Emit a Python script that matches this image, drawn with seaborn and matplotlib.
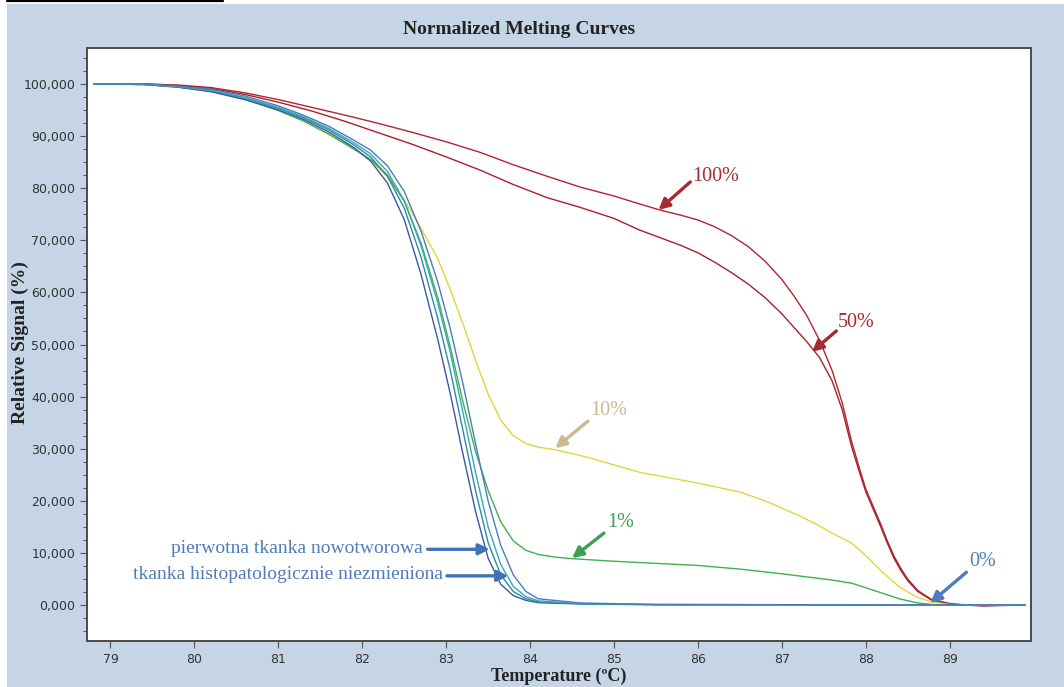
import matplotlib
matplotlib.use("Agg")
import matplotlib.pyplot as plt
from matplotlib.patches import Rectangle
from matplotlib.lines import Line2D
from matplotlib.ticker import FixedLocator, AutoMinorLocator, FuncFormatter
import pandas as pd
import seaborn as sns

# ---- Melting curves: temperature (degC) vs normalized signal (%) ----
red100_t = [78.8, 79.4, 79.8, 80.2, 80.6, 81.0, 81.4, 81.8, 82.2, 82.6, 83.0, 83.4, 83.8, 84.2,
            84.6, 85.0, 85.3, 85.55, 85.8, 86.0, 86.2, 86.4, 86.6, 86.8, 87.0, 87.15, 87.3,
            87.45, 87.6, 87.72, 87.83, 87.92, 88.0, 88.1, 88.18, 88.26, 88.34, 88.42, 88.5,
            88.62, 88.78, 89.0, 89.2, 89.4, 89.6, 89.9]
red100_y = [100, 100, 99.8, 99.3, 98.3, 97.0, 95.5, 94.0, 92.4, 90.7, 88.9, 86.9, 84.5, 82.3,
            80.2, 78.5, 77.0, 75.8, 74.8, 73.9, 72.6, 70.9, 68.8, 66.0, 62.5, 59.2, 55.5,
            50.8, 45.0, 38.8, 31.5, 26.5, 22.3, 18.5, 15.5, 12.2, 9.3, 7.0, 5.0,
            2.8, 1.1, 0.3, 0.0, -0.2, -0.1, 0.0]

red50_t = [78.8, 79.4, 79.8, 80.2, 80.6, 81.0, 81.4, 81.8, 82.2, 82.6, 83.0, 83.4, 83.8, 84.2,
           84.6, 85.0, 85.3, 85.6, 85.8, 86.0, 86.2, 86.4, 86.6, 86.8, 87.0, 87.15, 87.3,
           87.45, 87.6, 87.72, 87.83, 87.92, 88.0, 88.1, 88.18, 88.26, 88.34, 88.42, 88.5,
           88.62, 88.78, 89.0, 89.2, 89.9]
red50_y = [100, 100, 99.7, 99.1, 98.0, 96.5, 94.8, 92.8, 90.6, 88.4, 86.0, 83.5, 80.7, 78.2,
           76.3, 74.2, 72.0, 70.2, 69.0, 67.6, 65.8, 63.8, 61.6, 59.0, 55.9, 53.2, 50.5,
           47.5, 43.0, 37.5, 30.5, 25.8, 21.8, 18.0, 15.0, 11.8, 8.9, 6.6, 4.7,
           2.6, 1.0, 0.2, 0.0, 0.0]

yellow10_t = [78.8, 79.4, 79.8, 80.2, 80.6, 81.0, 81.3, 81.6, 81.9, 82.1, 82.3, 82.5, 82.7,
              82.9, 83.05, 83.2, 83.35, 83.5, 83.65, 83.8, 83.95, 84.1, 84.3, 84.7, 85.3,
              86.0, 86.5, 86.8, 87.0, 87.2, 87.4, 87.6, 87.83, 88.0, 88.2, 88.4, 88.6, 88.78,
              89.0, 89.9]
yellow10_y = [100, 99.9, 99.4, 98.6, 97.2, 95.0, 92.9, 90.3, 87.6, 85.4, 82.2, 77.8, 72.3,
              66.5, 60.5, 54.0, 47.0, 40.5, 35.5, 32.5, 31.0, 30.3, 29.8, 28.3, 25.5,
              23.4, 21.7, 20.0, 18.6, 17.2, 15.6, 13.8, 11.9, 9.5, 6.3, 3.5, 1.6, 0.6,
              0.1, 0.0]

green1_t = [78.8, 79.4, 79.8, 80.2, 80.6, 81.0, 81.3, 81.6, 81.9, 82.1, 82.3, 82.5, 82.7,
            82.9, 83.05, 83.2, 83.35, 83.5, 83.65, 83.8, 83.95, 84.1, 84.3, 84.5, 85.0, 85.5,
            86.0, 86.5, 87.0, 87.3, 87.6, 87.83, 88.1, 88.4, 88.62, 88.8, 89.0, 89.9]
green1_y = [100, 99.9, 99.4, 98.6, 97.1, 94.9, 92.9, 90.4, 87.5, 85.5, 82.5, 77.5, 69.5,
            59.0, 49.5, 39.0, 29.5, 22.0, 16.0, 12.3, 10.5, 9.7, 9.2, 8.9, 8.4, 8.0,
            7.6, 6.9, 6.0, 5.4, 4.8, 4.2, 2.8, 1.2, 0.4, 0.1, 0.0, 0.0]

# four tissue samples (primary tumour / unchanged tissue) share one temperature grid
tissue_t = [78.8, 79.4, 79.8, 80.2, 80.6, 81.0, 81.3, 81.6, 81.9, 82.1, 82.3, 82.5, 82.7,
            82.9, 83.05, 83.2, 83.35, 83.5, 83.65, 83.8, 83.95, 84.1, 84.6, 85.5, 89.9]
tissue_a_y = [100, 99.9, 99.4, 98.5, 97.0, 95.0, 93.2, 90.8, 87.8, 85.2, 81.0, 74.0, 63.5,
              51.0, 40.5, 29.0, 18.0, 9.0, 4.0, 1.8, 0.9, 0.45, 0.2, 0.05, 0.0]
tissue_b_y = [100, 99.9, 99.5, 98.7, 97.3, 95.3, 93.5, 91.2, 88.3, 86.0, 82.3, 76.2, 66.8,
              55.0, 45.0, 33.5, 22.0, 12.0, 5.8, 2.6, 1.2, 0.6, 0.25, 0.1, 0.0]
tissue_c_y = [100, 99.9, 99.5, 98.8, 97.4, 95.5, 93.7, 91.5, 88.7, 86.6, 83.2, 77.6, 69.0,
              58.0, 48.5, 37.0, 25.5, 15.0, 7.8, 3.6, 1.6, 0.8, 0.3, 0.1, 0.0]
tissue_d_y = [100, 100, 99.6, 99.0, 97.7, 95.8, 94.0, 91.9, 89.2, 87.3, 84.3, 79.4, 71.8,
              62.0, 53.0, 42.5, 31.0, 20.0, 11.5, 5.8, 2.6, 1.2, 0.4, 0.1, 0.0]

curve_names = ["100%", "50%", "10%", "1%", "tissue A", "tissue B", "tissue C", "tissue D"]
curve_colors = ["#b3242f", "#a8202c", "#e4d43a", "#3db24e", "#3a58aa", "#2a8d9e", "#36a9b6", "#4a7cc4"]

x_ticks = [79, 80, 81, 82, 83, 84, 85, 86, 87, 88, 89]
y_ticks = [0, 10, 20, 30, 40, 50, 60, 70, 80, 90, 100]

series = [(red100_t, red100_y), (red50_t, red50_y), (yellow10_t, yellow10_y),
          (green1_t, green1_y), (tissue_t, tissue_a_y), (tissue_t, tissue_b_y),
          (tissue_t, tissue_c_y), (tissue_t, tissue_d_y)]
frames = []
for name, (t, y) in zip(curve_names, series):
    frames.append(pd.DataFrame({"curve": name, "temperature": t, "signal": y}))
df = pd.concat(frames, ignore_index=True)

# ---- Figure ----
sns.set_theme(style="ticks")
plt.rcParams['font.family'] = ['DejaVu Sans']
SERIF = ['Liberation Serif', 'DejaVu Serif']
BG = "#c5d5e5"
W, H = 1064, 687

fig = plt.figure(figsize=(W / 100, H / 100), dpi=100)
fig.patch.set_facecolor("white")
fig.add_artist(Rectangle((7 / W, 0), 1 - 7 / W, 1 - 4 / H, transform=fig.transFigure,
                         facecolor=BG, edgecolor="none", zorder=-5))
fig.add_artist(Line2D([7 / W, 223 / W], [1 - 1 / H, 1 - 1 / H], transform=fig.transFigure,
                      color="black", lw=1.6, zorder=-4))

ax = fig.add_axes([87 / W, 1 - 641 / H, (1031 - 87) / W, (641 - 48) / H])
ax.set_facecolor("white")

sns.lineplot(data=df, x="temperature", y="signal", hue="curve", hue_order=curve_names,
             palette=dict(zip(curve_names, curve_colors)), estimator=None, sort=False,
             linewidth=1.0, legend=False, ax=ax)

ax.set_xlim(78.72, 89.97)
ax.set_ylim(-6.9, 106.9)
ax.xaxis.set_major_locator(FixedLocator(x_ticks))
ax.yaxis.set_major_locator(FixedLocator(y_ticks))
ax.yaxis.set_minor_locator(AutoMinorLocator(4))
ax.yaxis.set_major_formatter(FuncFormatter(lambda v, p: f"{v:.3f}".replace(".", ",")))
ax.xaxis.set_major_formatter(FuncFormatter(lambda v, p: f"{int(round(v))}"))
ax.tick_params(axis="both", which="major", direction="out", length=5, width=0.8,
               color="#555555", labelsize=9, labelcolor="#333333")
ax.tick_params(axis="y", which="minor", direction="out", length=3, width=0.7, color="#555555")
for s in ax.spines.values():
    s.set_color("#4a4a4a")
    s.set_linewidth(1.4)

ax.set_xlabel("")
ax.set_ylabel("")
fig.text(559 / W, 1 - 676 / H, "Temperature (\u00baC)", ha="center", va="center",
         fontsize=13, fontweight="bold", family=SERIF, color="#222222")
fig.text(20 / W, 1 - 343 / H, "Relative Signal (%)", ha="center", va="center", rotation=90,
         fontsize=14, fontweight="bold", family=SERIF, color="#222222")
fig.text(519 / W, 1 - 29 / H, "Normalized Melting Curves", ha="center", va="center",
         fontsize=14, fontweight="bold", family=SERIF, color="#222222")

# ---- Annotations ----
def arrow(tail, tip, color):
    ax.annotate("", xy=tip, xytext=tail,
                arrowprops=dict(arrowstyle="-|>", color=color, lw=2.4, mutation_scale=16,
                                shrinkA=0, shrinkB=0))

RED_TXT = "#a52a31"
BLUE_TXT = "#4f7db8"
arrow((85.91, 81.2), (85.53, 75.8), RED_TXT)
ax.text(85.93, 82.3, "100%", color=RED_TXT, fontsize=14.5, family=SERIF, ha="left", va="center")
arrow((87.65, 52.6), (87.36, 48.6), RED_TXT)
ax.text(87.67, 54.3, "50%", color=RED_TXT, fontsize=14.5, family=SERIF, ha="left", va="center")
arrow((84.69, 35.3), (84.30, 30.1), "#c9bb8f")
ax.text(84.72, 37.4, "10%", color="#c9bb8f", fontsize=14.5, family=SERIF, ha="left", va="center")
arrow((84.88, 13.8), (84.50, 9.0), "#3c9f56")
ax.text(84.92, 15.9, "1%", color="#3c9f56", fontsize=14.5, family=SERIF, ha="left", va="center")
arrow((89.20, 6.3), (88.77, 0.4), "#4a7cbf")
ax.text(89.24, 8.4, "0%", color=BLUE_TXT, fontsize=14.5, family=SERIF, ha="left", va="center")

arrow((82.78, 10.7), (83.52, 10.7), "#3f72b6")
ax.text(82.72, 10.9, "pierwotna tkanka nowotworowa", color=BLUE_TXT, fontsize=14,
        family=SERIF, ha="right", va="center")
arrow((83.01, 5.6), (83.74, 5.6), "#3f72b6")
ax.text(82.96, 5.8, "tkanka histopatologicznie niezmieniona", color=BLUE_TXT, fontsize=14,
        family=SERIF, ha="right", va="center")

fig.savefig("out.png", dpi=100, facecolor=fig.get_facecolor())
